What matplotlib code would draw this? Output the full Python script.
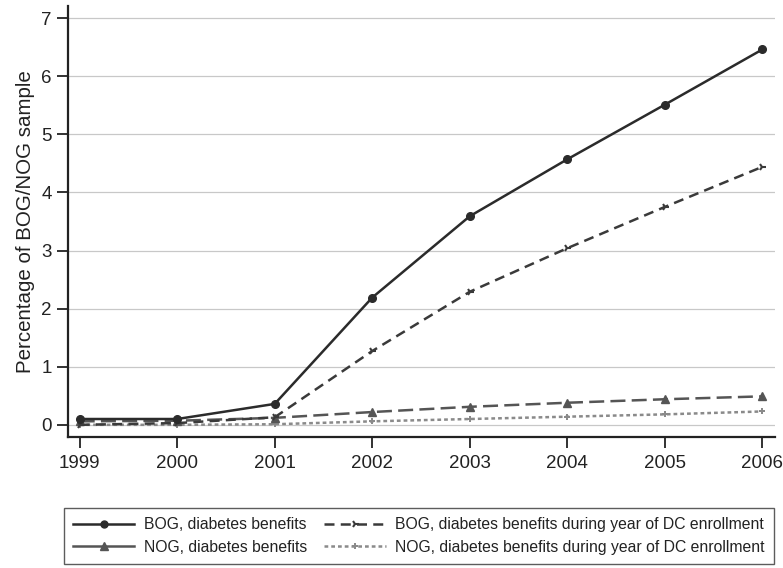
import matplotlib
matplotlib.use("Agg")
import matplotlib.pyplot as plt
from matplotlib.lines import Line2D

plt.rcParams['font.family'] = ['Liberation Sans', 'DejaVu Sans']

years = [1999, 2000, 2001, 2002, 2003, 2004, 2005, 2006]
bog_diab = [0.10, 0.10, 0.36, 2.19, 3.59, 4.57, 5.51, 6.46]
bog_dc = [0.00, 0.03, 0.13, 1.27, 2.29, 3.04, 3.75, 4.44]
nog_diab = [0.06, 0.07, 0.12, 0.22, 0.31, 0.38, 0.44, 0.49]
nog_dc = [0.00, 0.00, 0.01, 0.06, 0.10, 0.14, 0.18, 0.23]

labels = ["BOG, diabetes benefits",
          "NOG, diabetes benefits",
          "BOG, diabetes benefits during year of DC enrollment",
          "NOG, diabetes benefits during year of DC enrollment"]

fig = plt.figure(figsize=(7.83, 5.68), dpi=100)
ax = fig.add_axes([0.0868, 0.2306, 0.903, 0.758])

c1 = '#2b2b2b'
c2 = '#3a3a3a'
c3 = '#555555'
c4 = '#8a8a8a'

ax.plot(years, nog_dc, color=c4, lw=1.8, linestyle=(0, (1.5, 1.2)), marker='P',
        markersize=5, markeredgewidth=0, zorder=3)
ax.plot(years, nog_diab, color=c3, lw=1.8, linestyle=(0, (6, 2.5)), marker='^',
        markersize=6, zorder=4)
ax.plot(years, bog_dc, color=c2, lw=1.8, linestyle=(0, (4, 2.5)), marker='4',
        markersize=6, markeredgewidth=1.5, zorder=5)
ax.plot(years, bog_diab, color=c1, lw=1.8, linestyle='-', marker='o',
        markersize=5.5, zorder=6)

ax.set_xlim(1998.88, 2006.13)
ax.set_ylim(-0.21, 7.2)
ax.set_xticks(years)
ax.set_yticks(range(0, 8))
ax.yaxis.grid(True, color='#c8c8c8', lw=0.9)
ax.set_axisbelow(True)
for s in ['top', 'right']:
    ax.spines[s].set_visible(False)
for s in ['left', 'bottom']:
    ax.spines[s].set_linewidth(1.6)
    ax.spines[s].set_color('#222222')
ax.tick_params(axis='both', direction='out', length=8, width=1.3, colors='#222222',
               labelsize=13.5, labelcolor='#222222')
ax.tick_params(axis='x', pad=5)
ax.set_ylabel("Percentage of BOG/NOG sample", fontsize=14.8, color='#222222', labelpad=5)

handles = [
    Line2D([], [], color=c1, lw=1.8, marker='o', markersize=5),
    Line2D([], [], color=c3, lw=1.8, marker='^', markersize=6),
    Line2D([], [], color=c2, lw=1.8, linestyle=(0, (4, 2.5)), marker='4', markersize=6, markeredgewidth=1.5),
    Line2D([], [], color=c4, lw=1.8, linestyle=(0, (1.5, 1.2)), marker='P', markersize=5, markeredgewidth=0),
]
leg = fig.legend(handles, labels, ncol=2, loc='center',
                 bbox_to_anchor=(0.535, 0.0563), fontsize=11.3, frameon=True,
                 fancybox=False, edgecolor='#333333', handlelength=3.9,
                 columnspacing=1.1, handletextpad=0.6, borderpad=0.6, labelspacing=0.5)
leg.get_frame().set_linewidth(1.0)
for t in leg.get_texts():
    t.set_color('#222222')

fig.savefig("out.png", dpi=100)
